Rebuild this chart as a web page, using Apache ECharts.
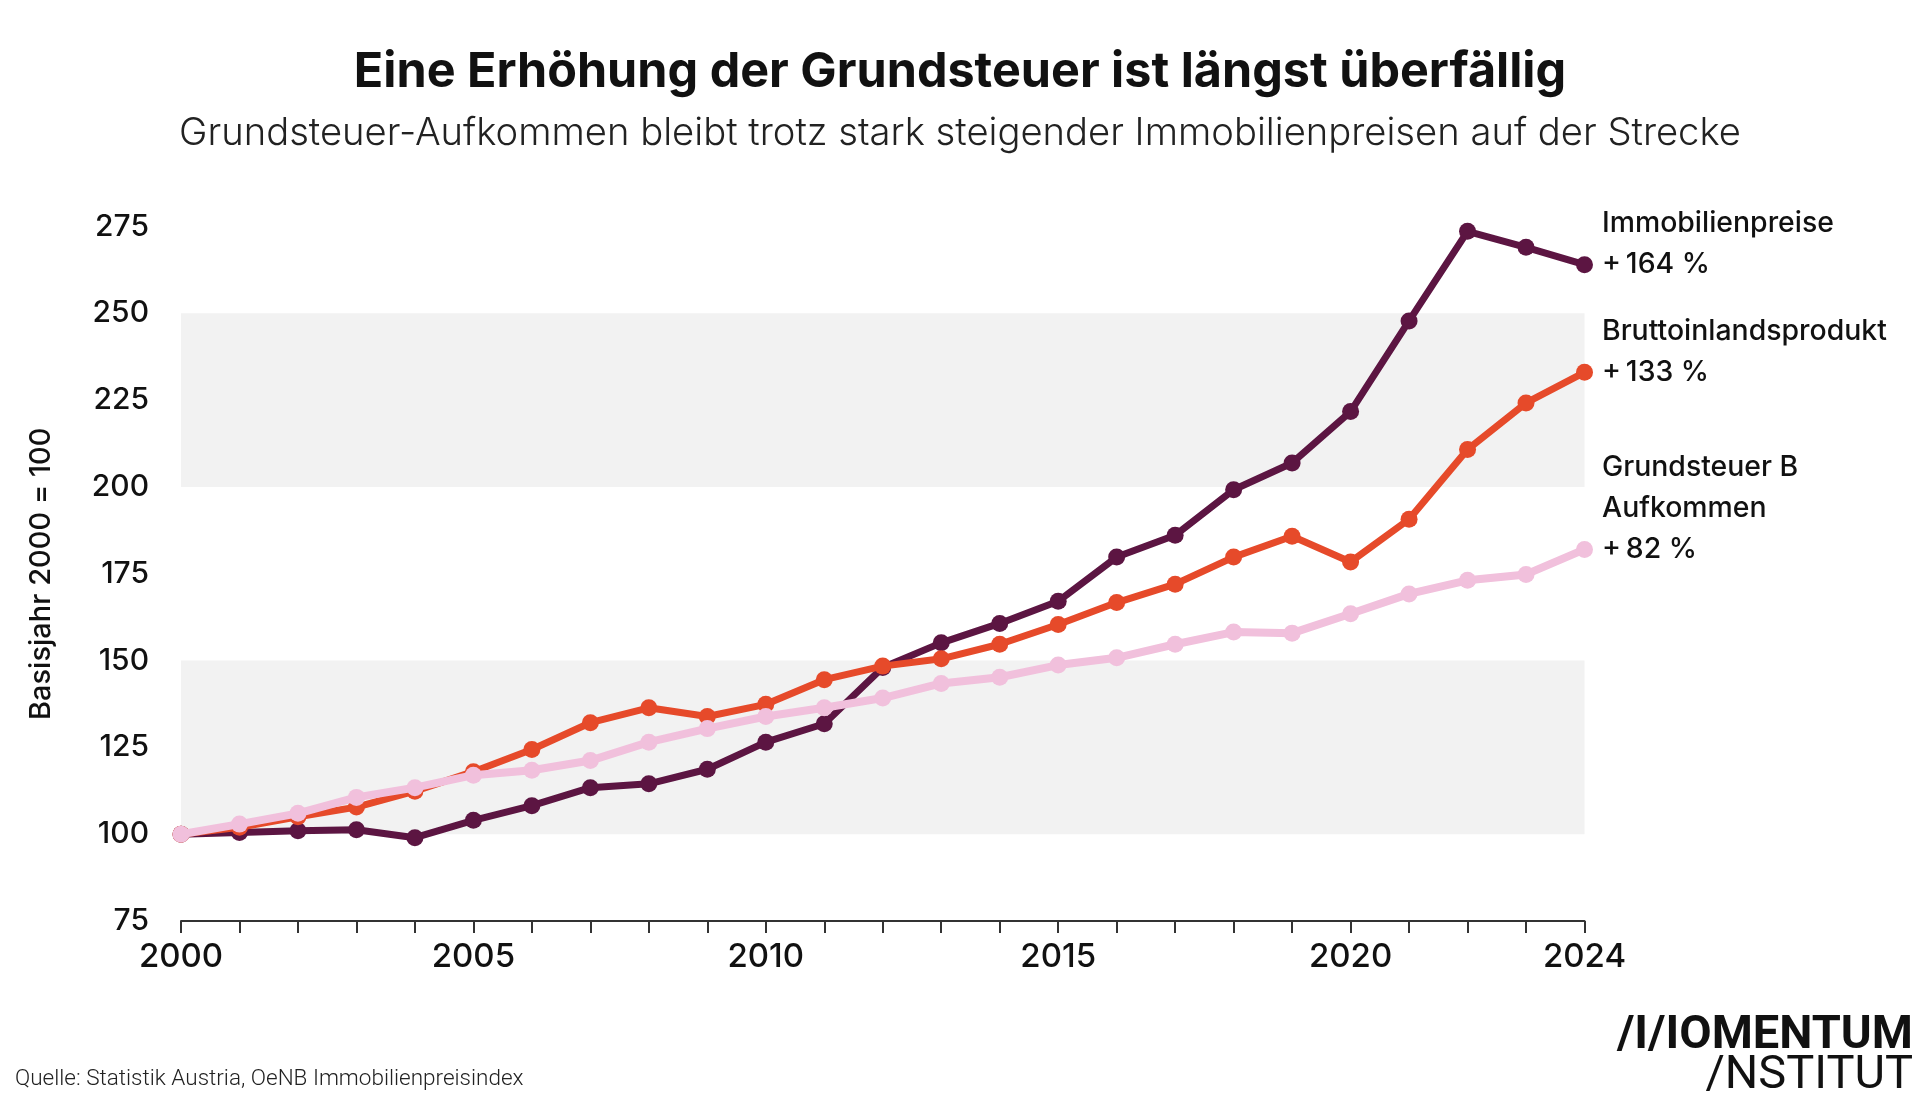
<!DOCTYPE html>
<html>
<head>
<meta charset="utf-8">
<script src="https://cdn.jsdelivr.net/npm/echarts@6/dist/echarts.min.js"></script>
<style>
html,body{margin:0;padding:0;background:#fff;}
#c{width:1920px;height:1098px;}
</style>
</head>
<body>
<div id="c"></div>
<script>
const years = [2000,2001,2002,2003,2004,2005,2006,2007,2008,2009,2010,2011,2012,2013,2014,2015,2016,2017,2018,2019,2020,2021,2022,2023,2024];
const immobilienpreise = [100,100.5,101,101.3,99,104,108.2,113.4,114.5,118.7,126.5,131.8,148,155.1,160.7,167.1,179.8,186.1,199.2,206.9,221.7,247.8,273.6,269,264];
const bip = [100,102,105,107.8,112.4,118,124.4,132.1,136.4,133.9,137.4,144.5,148.4,150.5,154.7,160.4,166.7,172,179.8,185.8,178.4,190.7,210.8,224.2,233];
const grundsteuer = [100,102.9,106,110.6,113.4,117,118.4,121.2,126.5,130.4,133.9,136.4,139.2,143.4,145.2,148.7,150.8,154.7,158.2,157.9,163.5,169.2,173.1,174.8,182];
const labelsImmo = ['Immobilienpreise','+\u2009164 %'];
const labelsBip = ['Bruttoinlandsprodukt','+\u2009133 %'];
const labelsGst = ['Grundsteuer B','Aufkommen','+\u200982 %'];
const xLabelYears = [2000,2005,2010,2015,2020,2024];
const bandRanges = [[100,150],[200,250]];
const titleText = 'Eine Erhöhung der Grundsteuer ist längst überfällig';
const subtitleText = 'Grundsteuer-Aufkommen bleibt trotz stark steigender Immobilienpreisen auf der Strecke';
const yName = 'Basisjahr 2000 = 100';
const sourceText = 'Quelle: Statistik Austria, OeNB Immobilienpreisindex';

const FONT = 'Inter, Roboto, sans-serif';
const LH = 41;

function buildData(vals, lines){
  const d = years.map((y,i)=>[y, vals[i]]);
  const last = d.length - 1;
  d[last] = {
    value: d[last],
    label: {
      show: true,
      position: 'right',
      distance: 9,
      formatter: lines.join('\n'),
      lineHeight: LH,
      fontSize: 28.4,
      fontWeight: 500,
      fontFamily: FONT,
      color: '#111',
      align: 'left',
      offset: [0, -(lines.length-1)*LH/2]
    }
  };
  return d;
}

function lineSeries(name, vals, color, width, lines, z){
  return {
    name, type: 'line', z,
    data: buildData(vals, lines),
    symbol: 'circle', symbolSize: 17,
    lineStyle: {color, width},
    itemStyle: {color},
    emphasis: {disabled: true},
    label: {show: false}
  };
}

const chart = echarts.init(document.getElementById('c'));
chart.setOption({
  animation: false,
  backgroundColor: '#fff',
  title: [
    {text: titleText, left: 'center', top: 43,
     textStyle: {fontFamily: FONT, fontWeight: 700, fontSize: 48.5, color: '#111'}},
    {text: subtitleText, left: 'center', top: 110,
     textStyle: {fontFamily: FONT, fontWeight: 300, fontSize: 38.2, color: '#222'}},
    {text: sourceText, left: 10, top: 1063,
     textStyle: {fontFamily: 'Roboto, sans-serif', fontWeight: 300, fontSize: 22.5, color: '#222'}},
    {text: '/I/IOMENTUM', right: 2, top: 1008,
     textStyle: {fontFamily: 'Roboto, sans-serif', fontWeight: 700, fontSize: 47, color: '#111'}},
    {text: '/NSTITUT', right: 2, top: 1048,
     textStyle: {fontFamily: 'Roboto, sans-serif', fontWeight: 400, fontSize: 47, color: '#111'}}
  ],
  grid: {left: 181, right: 335.5, top: 226.5, bottom: 177, containLabel: false},
  xAxis: {
    type: 'value', min: 2000, max: 2024, interval: 1,
    axisLine: {show: true, lineStyle: {color: '#333', width: 2}},
    axisTick: {show: true, length: 12, lineStyle: {color: '#333', width: 2}},
    splitLine: {show: false},
    axisLabel: {
      margin: 20, fontSize: 33, fontWeight: 500, fontFamily: FONT, color: '#111',
      showMaxLabel: true, showMinLabel: true,
      formatter: v => xLabelYears.indexOf(v) >= 0 ? String(v) : ''
    }
  },
  yAxis: {
    type: 'value', min: 75, max: 275, interval: 25,
    axisLine: {show: false}, axisTick: {show: false}, splitLine: {show: false},
    axisLabel: {margin: 32, fontSize: 30, fontWeight: 500, fontFamily: FONT, color: '#111'},
    name: yName, nameLocation: 'middle', nameGap: 125, nameRotate: 90,
    nameTextStyle: {fontSize: 29, fontWeight: 500, fontFamily: FONT, color: '#111'}
  },
  series: [
    {type: 'line', data: [], z: 0, silent: true,
     markArea: {silent: true, itemStyle: {color: '#f2f2f2'},
       data: bandRanges.map(r => [{yAxis: r[0]}, {yAxis: r[1]}])}},
    lineSeries('Immobilienpreise', immobilienpreise, '#5c1542', 7, labelsImmo, 3),
    lineSeries('Bruttoinlandsprodukt', bip, '#e64a2a', 7, labelsBip, 4),
    lineSeries('Grundsteuer B Aufkommen', grundsteuer, '#f1c0dc', 8, labelsGst, 5)
  ]
});
</script>
</body>
</html>
